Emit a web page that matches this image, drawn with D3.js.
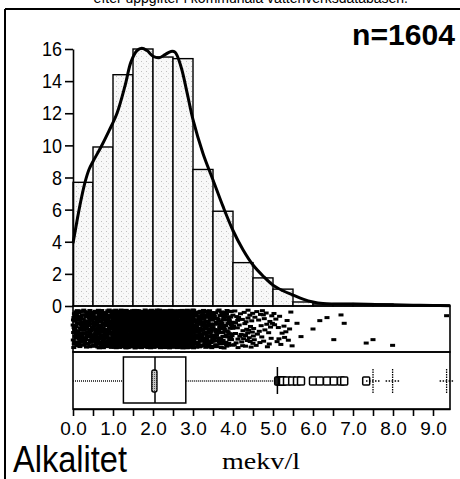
<!DOCTYPE html>
<html>
<head>
<meta charset="utf-8">
<script src="https://cdn.jsdelivr.net/npm/d3@7"></script>
<style>
  html, body { margin: 0; padding: 0; background: #fff; }
  svg { display: block; }
</style>
</head>
<body>
<svg id="chart" width="460" height="479"></svg>
<script>
// ---- data ---------------------------------------------------------------
const sampleSize = 1604;

// histogram: bin edges (mekv/l) and percentage of samples per bin
const binEdges = [0, 0.5, 1.0, 1.5, 2.0, 2.5, 3.0, 3.5, 4.0, 4.5, 5.0, 5.5, 6.0, 6.5, 7.0, 7.5, 8.0, 8.5, 9.0, 9.42];
const binPercent = [7.7, 9.9, 14.4, 16.0, 15.5, 15.4, 8.5, 5.9, 2.7, 1.75, 1.05, 0.25, 0.12, 0.15, 0.15, 0.12, 0.06, 0.06, 0.06];

// smoothed density curve (x in mekv/l, y in %)
const densityX = [0.0, 0.1, 0.2, 0.3, 0.4, 0.5, 0.7, 0.9, 1.1, 1.3, 1.45, 1.6, 1.72, 1.85, 2.0, 2.15, 2.3, 2.45, 2.55, 2.7, 2.85, 3.0, 3.25, 3.5, 3.75, 4.0, 4.25, 4.5, 4.75, 5.0, 5.25, 5.5, 5.75, 6.0, 6.25, 6.5, 7.0, 7.5, 8.0, 8.5, 9.0, 9.42];
const densityY = [3.9, 5.3, 6.6, 7.7, 8.5, 9.0, 9.9, 10.9, 12.0, 13.7, 15.2, 15.9, 16.05, 15.9, 15.55, 15.45, 15.65, 15.85, 15.8, 14.9, 13.3, 11.6, 9.5, 7.85, 6.2, 4.7, 3.5, 2.55, 1.87, 1.3, 0.95, 0.68, 0.43, 0.25, 0.15, 0.12, 0.12, 0.1, 0.08, 0.05, 0.03, 0.02];

// individual high values (mekv/l) and their vertical jitter slot (0 = top, 1 = bottom)
const tailValues = [5.6, 5.7, 6.0, 6.17, 6.35, 6.52, 6.7, 6.78, 7.33, 7.5, 7.99, 9.34];
const tailJitter = [0.35, 0.7, 0.5, 0.28, 0.2, 0.78, 0.13, 0.35, 0.87, 0.78, 0.93, 0.15];

// box plot summary
const boxStats = { min: 0.0, q1: 1.26, median: 2.05, q3: 2.82, upperWhisker: 5.11, notchLo: 1.97, notchHi: 2.1 };
const nearOutliers = [5.13, 5.16, 5.19, 5.22, 5.25, 5.35, 5.48, 5.6, 5.7, 6.0, 6.17, 6.35, 6.52, 6.7, 6.78, 7.33];
const farOutliers = [7.5, 7.99, 9.34];

// axis ticks
const yTicks = [0, 2, 4, 6, 8, 10, 12, 14, 16];
const xTicks = d3.range(0, 9.01, 0.5);
const xLabelTicks = [0, 1, 2, 3, 4, 5, 6, 7, 8, 9];

// ---- layout -------------------------------------------------------------
const svg = d3.select("#chart");
const x = d3.scaleLinear().domain([0, 9.425]).range([73, 450]);
const y = d3.scaleLinear().domain([0, 16]).range([306, 49]);

const stripTop = 306, stripBottom = 352, boxBottom = 409;

const narrow = "'Liberation Sans Narrow', 'Liberation Sans', Arial, sans-serif";
const sans = "'Liberation Sans', Arial, sans-serif";

// stipple fills
const defs = svg.append("defs");
const stip = defs.append("pattern").attr("id", "stipple")
  .attr("width", 5).attr("height", 5).attr("patternUnits", "userSpaceOnUse");
stip.append("rect").attr("width", 5).attr("height", 5).attr("fill", "#f8f8f8");
stip.append("rect").attr("x", 1).attr("y", 1).attr("width", 1).attr("height", 1).attr("fill", "#c0c0c0");
stip.append("rect").attr("x", 3).attr("y", 3).attr("width", 1).attr("height", 1).attr("fill", "#dddddd");
const dark = defs.append("pattern").attr("id", "darkstipple")
  .attr("width", 2).attr("height", 2).attr("patternUnits", "userSpaceOnUse");
dark.append("rect").attr("width", 2).attr("height", 2).attr("fill", "#c8c8c8");
dark.append("rect").attr("width", 1).attr("height", 1).attr("fill", "#555");

// page frame: left rule and top rule
svg.append("line").attr("x1", 5).attr("x2", 5).attr("y1", 9).attr("y2", 479)
  .attr("stroke", "#000").attr("stroke-width", 2);
svg.append("line").attr("x1", 5).attr("x2", 460).attr("y1", 9).attr("y2", 9)
  .attr("stroke", "#000").attr("stroke-width", 2);
svg.append("text").attr("x", 408).attr("y", 3).attr("text-anchor", "end")
  .attr("font-family", sans).attr("font-size", 14)
  .text("efter uppgifter i kommunala vattenverksdatabasen.");

// sample size
svg.append("text").attr("x", 455).attr("y", 45).attr("text-anchor", "end")
  .attr("font-family", narrow).attr("font-weight", "bold").attr("font-size", 30)
  .attr("textLength", 103).attr("lengthAdjust", "spacingAndGlyphs")
  .text("n=" + sampleSize);

// ---- histogram ----------------------------------------------------------
const bins = binPercent.map((p, i) => ({ x0: binEdges[i], x1: binEdges[i + 1], p }));
svg.append("g").selectAll("rect").data(bins).join("rect")
  .attr("x", d => x(d.x0))
  .attr("width", d => x(d.x1) - x(d.x0))
  .attr("y", d => y(d.p))
  .attr("height", d => y(0) - y(d.p))
  .attr("fill", "url(#stipple)")
  .attr("stroke", "#000").attr("stroke-width", 1.4);

// density curve
const line = d3.line().x(d => x(d[0])).y(d => y(d[1])).curve(d3.curveCatmullRom.alpha(0.5));
svg.append("path").datum(densityX.map((v, i) => [v, densityY[i]]))
  .attr("d", line).attr("fill", "none").attr("stroke", "#000")
  .attr("stroke-width", 3).attr("stroke-linejoin", "round");

// y axis (condensed labels)
const yAxis = svg.append("g").attr("transform", "translate(73,0)")
  .call(d3.axisLeft(y).tickValues(yTicks).tickSize(8).tickSizeOuter(0).tickPadding(3).tickFormat(d3.format("d")));
yAxis.select(".domain").attr("stroke-width", 1.6);
yAxis.selectAll(".tick line").attr("stroke-width", 1.6);
yAxis.selectAll("text").attr("font-family", narrow).attr("font-size", 21).attr("fill", "#000")
  .attr("textLength", d => String(d).length * 10).attr("lengthAdjust", "spacingAndGlyphs");

// ---- strip panel --------------------------------------------------------
function halton(i, b) {
  let f = 1, r = 0;
  while (i > 0) { f /= b; r += f * (i % b); i = Math.floor(i / b); }
  return r;
}
const stripPts = [];
let seq = 1;
bins.forEach(b => {
  if (b.x1 > 5.5) return;
  const n = Math.round(b.p * sampleSize / 100);
  for (let k = 0; k < n; k++, seq++) {
    stripPts.push({ v: b.x0 + halton(seq, 2) * (b.x1 - b.x0), j: halton(seq, 3) });
  }
});
tailValues.forEach((v, i) => stripPts.push({ v, j: tailJitter[i] }));

svg.append("g").selectAll("rect").data(stripPts).join("rect")
  .attr("x", d => x(d.v) - 2.5)
  .attr("y", d => stripTop + 2.5 + d.j * (stripBottom - stripTop - 8))
  .attr("width", 5).attr("height", 3).attr("fill", "#000");

svg.append("rect").attr("x", x(0)).attr("y", stripTop)
  .attr("width", x.range()[1] - x(0)).attr("height", stripBottom - stripTop)
  .attr("fill", "none").attr("stroke", "#000").attr("stroke-width", 1.6);

// ---- box plot panel -----------------------------------------------------
const boxG = svg.append("g");
const cy = 381, boxTop = 357, boxBot = 403;
boxG.append("rect").attr("x", x(0)).attr("y", stripBottom)
  .attr("width", x.range()[1] - x(0)).attr("height", boxBottom - stripBottom)
  .attr("fill", "none").attr("stroke", "#000").attr("stroke-width", 1.6);
// whiskers
boxG.append("line").attr("x1", x(boxStats.min)).attr("x2", x(boxStats.q1))
  .attr("y1", cy).attr("y2", cy).attr("stroke", "#111").attr("stroke-width", 1.4).attr("stroke-dasharray", "1,1");
boxG.append("line").attr("x1", x(boxStats.q3)).attr("x2", x(boxStats.upperWhisker))
  .attr("y1", cy).attr("y2", cy).attr("stroke", "#111").attr("stroke-width", 1.4).attr("stroke-dasharray", "1,1");
boxG.append("line").attr("x1", x(boxStats.upperWhisker)).attr("x2", x(boxStats.upperWhisker))
  .attr("y1", 367).attr("y2", 394).attr("stroke", "#000").attr("stroke-width", 1.5);
// box
boxG.append("rect").attr("x", x(boxStats.q1)).attr("y", boxTop)
  .attr("width", x(boxStats.q3) - x(boxStats.q1)).attr("height", boxBot - boxTop)
  .attr("fill", "#fff").attr("stroke", "#000").attr("stroke-width", 1.5);
boxG.append("line").attr("x1", x(boxStats.median)).attr("x2", x(boxStats.median))
  .attr("y1", boxTop).attr("y2", boxBot).attr("stroke", "#000").attr("stroke-width", 1.5);
boxG.append("rect").attr("x", x(boxStats.notchLo)).attr("y", 370)
  .attr("width", x(boxStats.notchHi) - x(boxStats.notchLo)).attr("height", 22)
  .attr("rx", 2).attr("fill", "url(#darkstipple)").attr("stroke", "#000").attr("stroke-width", 1.3);
// outliers
boxG.selectAll("rect.out").data(nearOutliers).join("rect").attr("class", "out")
  .attr("x", d => x(d) - 3.5).attr("y", cy - 4).attr("width", 7).attr("height", 8)
  .attr("rx", 1).attr("fill", "#fff").attr("stroke", "#000").attr("stroke-width", 1.5);
const far = boxG.selectAll("g.far").data(farOutliers).join("g").attr("class", "far")
  .attr("transform", d => `translate(${x(d)},${cy})`);
far.append("line").attr("y1", -12).attr("y2", 12).attr("stroke", "#000")
  .attr("stroke-width", 1.3).attr("stroke-dasharray", "1.5,1");
far.append("line").attr("x1", -7).attr("x2", 7).attr("stroke", "#000")
  .attr("stroke-width", 1.3).attr("stroke-dasharray", "1.5,1.5");

// ---- x axis -------------------------------------------------------------
const xAxis = svg.append("g").attr("transform", `translate(0,${boxBottom})`)
  .call(d3.axisBottom(x).tickValues(xTicks).tickSize(7).tickSizeOuter(0).tickPadding(6)
    .tickFormat(d => xLabelTicks.includes(d) ? d3.format(".1f")(d) : ""));
xAxis.select(".domain").attr("stroke-width", 1.6);
xAxis.selectAll(".tick line").attr("stroke-width", 1.6);
xAxis.selectAll("text").attr("font-family", sans).attr("font-size", 19).attr("fill", "#000");

// titles
svg.append("text").attr("x", 13).attr("y", 472)
  .attr("font-family", narrow).attr("font-size", 37)
  .attr("textLength", 114).attr("lengthAdjust", "spacingAndGlyphs")
  .text("Alkalitet");
svg.append("text").attr("x", 222).attr("y", 469)
  .attr("font-family", "'Liberation Serif', 'Times New Roman', serif").attr("font-size", 23)
  .attr("textLength", 78).attr("lengthAdjust", "spacingAndGlyphs")
  .text("mekv/l");
</script>
</body>
</html>
